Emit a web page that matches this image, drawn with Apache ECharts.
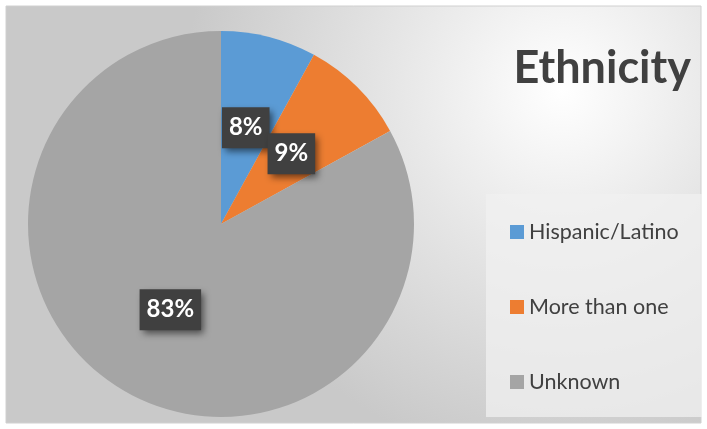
<!DOCTYPE html>
<html>
<head>
<meta charset="utf-8">
<script src="https://cdn.jsdelivr.net/npm/echarts@6/dist/echarts.min.js"></script>
<style>
html,body{margin:0;padding:0;background:#fff;}
#c{width:707px;height:429px;}
</style>
</head>
<body>
<div id="c"></div>
<script>
const categories = ['Hispanic/Latino', 'More than one', 'Unknown'];
const values = [8, 9, 83];
const colors = ['#5b9bd5', '#ed7d31', '#a5a5a5'];
const titleText = 'Ethnicity';

const chart = echarts.init(document.getElementById('c'), null, {renderer: 'canvas'});
const font = 'Lato, "Open Sans", sans-serif';

chart.setOption({
  animation: false,
  backgroundColor: '#fff',
  title: {
    text: titleText,
    right: 16,
    top: 46,
    padding: 0,
    textStyle: {fontFamily: font, fontSize: 45, fontWeight: 'bold', color: '#404040'}
  },
  graphic: [
    {
      type: 'rect', z: -10, silent: true,
      shape: {x: 6, y: 6, width: 695, height: 417},
      style: {
        fill: new echarts.graphic.RadialGradient(0.8, 0.2, 0.9, [
          {offset: 0, color: '#ffffff'},
          {offset: 0.45, color: '#e6e6e6'},
          {offset: 1, color: '#c9c9c9'}
        ]),
        stroke: '#d0d0d0', lineWidth: 1
      }
    },
    {
      type: 'rect', z: -5, silent: true,
      shape: {x: 486, y: 194, width: 216, height: 223},
      style: {fill: 'rgba(240,240,240,0.75)'}
    }
  ],
  legend: {
    orient: 'vertical',
    left: 510,
    top: 221,
    padding: 0,
    itemWidth: 14,
    itemHeight: 14,
    itemGap: 53,
    icon: 'rect',
    data: categories,
    textStyle: {fontFamily: font, fontSize: 21.5, color: '#404040', lineHeight: 22, padding: [0, 0, 0, 0]}
  },
  series: [{
    type: 'pie',
    center: [221, 224],
    radius: 193,
    startAngle: 90,
    clockwise: true,
    avoidLabelOverlap: false,
    labelLayout: {hideOverlap: false},
    color: colors,
    data: categories.map((n, i) => ({name: n, value: values[i]})),
    itemStyle: {borderWidth: 0},
    emphasis: {disabled: true},
    label: {
      show: true,
      position: 'inside',
      formatter: '{c}%',
      fontFamily: font,
      fontSize: 24,
      fontWeight: 'bold',
      color: '#ffffff',
      backgroundColor: '#404040',
      padding: [9, 7, 8, 7],
      shadowColor: 'rgba(0,0,0,0.55)',
      shadowBlur: 7,
      shadowOffsetX: 3,
      shadowOffsetY: 4
    },
    labelLine: {show: false}
  }]
});
</script>
</body>
</html>
